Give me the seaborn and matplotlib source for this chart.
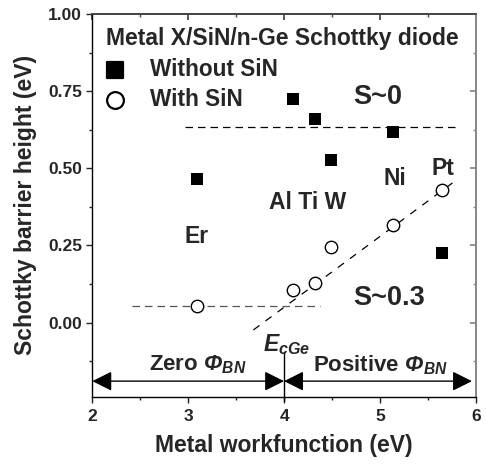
import numpy as np
import pandas as pd
import matplotlib
matplotlib.use('Agg')
import matplotlib.pyplot as plt
import seaborn as sns

# Data
metals = ['Er', 'Al', 'Ti', 'W', 'Ni', 'Pt']
workfunction = [3.09, 4.09, 4.32, 4.49, 5.14, 5.65]
sbh_without_sin = [0.465, 0.723, 0.659, 0.528, 0.618, 0.224]
sbh_with_sin = [0.052, 0.106, 0.129, 0.244, 0.316, 0.431]

# guide lines (S~0, pinned level, S~0.3 slope)
s0_x = [2.97, 5.80]
s0_y = [0.634, 0.634]
pin_x = [2.41, 4.38]
pin_y = [0.054, 0.054]
slope_x = [3.68, 5.79]
slope_y = [-0.024, 0.46]

ecge = 4.0

df = pd.DataFrame({'wf': workfunction, 'without': sbh_without_sin, 'with': sbh_with_sin})

sns.set_theme(style='ticks')
plt.rcParams['font.family'] = ['Liberation Sans', 'DejaVu Sans']
plt.rcParams['font.weight'] = 'bold'
plt.rcParams['mathtext.fontset'] = 'custom'
plt.rcParams['mathtext.rm'] = 'Liberation Sans:bold'
plt.rcParams['mathtext.it'] = 'Liberation Sans:bold:italic'
plt.rcParams['mathtext.bf'] = 'Liberation Sans:bold'
plt.rcParams['mathtext.bfit'] = 'Liberation Sans:bold:italic'

fig = plt.figure(figsize=(4.86, 4.66), dpi=100)
ax = fig.add_axes([0.190, 0.149, 0.789, 0.821])

# guide lines
ax.plot(s0_x, s0_y, color='black', lw=0.9, ls=(0, (6, 4)))
ax.plot(pin_x, pin_y, color='#555555', lw=0.9, ls=(0, (6, 4)))
ax.plot(slope_x, slope_y, color='black', lw=0.9, ls=(0, (6, 6)))

sns.scatterplot(data=df, x='wf', y='without', marker='s', s=65, color='black',
                edgecolor='black', linewidth=0, ax=ax, label='Without SiN', zorder=3)
sns.scatterplot(data=df, x='wf', y='with', marker='o', s=80, facecolor='white',
                edgecolor='black', linewidth=1.0, ax=ax, label='With SiN', zorder=3)

ax.set_xlim(2, 6)
ax.set_ylim(-0.24, 1.0)
ax.set_xticks([2, 3, 4, 5, 6])
ax.set_xticks(np.arange(2.5, 6, 1.0), minor=True)
ax.set_yticks([0.0, 0.25, 0.5, 0.75, 1.0])
ax.set_yticks([-0.125, 0.125, 0.375, 0.625, 0.875], minor=True)
ax.yaxis.set_major_formatter(matplotlib.ticker.FormatStrFormatter('%.2f'))
ax.tick_params(which='major', direction='out', length=4, width=1, labelsize=12.5)
ax.tick_params(axis='x', which='major', pad=5)
ax.tick_params(which='minor', direction='out', length=2.5, width=1)
for lab in ax.get_xticklabels() + ax.get_yticklabels():
    lab.set_fontweight('bold')

ax.set_xlabel('Metal workfunction (eV)', fontsize=16.5, fontweight='bold', labelpad=7)
ax.set_ylabel('Schottky barrier height (eV)', fontsize=16.5, fontweight='bold', labelpad=8)

for side in ['left', 'bottom']:
    ax.spines[side].set_color('black')
    ax.spines[side].set_linewidth(1.0)
ax.spines['top'].set_color('#444444')
ax.spines['right'].set_color('#888888')

# inward ticks on top/right
top = ax.secondary_xaxis('top')
top.set_xticks([2, 3, 4, 5, 6])
top.set_xticks(np.arange(2.5, 6, 1.0), minor=True)
top.tick_params(which='both', direction='in', labeltop=False, color='#444444')
top.tick_params(which='major', length=4)
top.tick_params(which='minor', length=2.5)
top.spines['top'].set_color('#444444')
right = ax.secondary_yaxis('right')
right.set_yticks([0.0, 0.25, 0.5, 0.75, 1.0])
right.set_yticks([-0.125, 0.125, 0.375, 0.625, 0.875], minor=True)
right.tick_params(which='both', direction='in', labelright=False, color='#888888')
right.tick_params(which='major', length=4)
right.tick_params(which='minor', length=2.5)
right.spines['right'].set_color('#888888')

leg = ax.legend(title='Metal X/SiN/n-Ge Schottky diode', loc='upper left',
                bbox_to_anchor=(-0.018, 1.02), frameon=False, alignment='left',
                handlelength=0.8, handletextpad=1.15, borderpad=0.4,
                labelspacing=0.3, markerscale=1.35,
                prop={'size': 16.3, 'weight': 'bold'},
                title_fontproperties={'size': 16.5, 'weight': 'bold'})
leg._legend_box.sep = 6
for h in leg.legend_handles:
    h.set_linewidth(1.6)

# metal labels
ax.text(3.09, 0.28, 'Er', fontsize=16.5, fontweight='bold', ha='center', va='center')
ax.text(4.25, 0.39, 'Al Ti W', fontsize=16.5, fontweight='bold', ha='center', va='center')
ax.text(5.16, 0.468, 'Ni', fontsize=16.5, fontweight='bold', ha='center', va='center')
ax.text(5.66, 0.50, 'Pt', fontsize=16.5, fontweight='bold', ha='center', va='center')
ax.text(4.72, 0.73, 'S~0', fontsize=19.5, fontweight='bold', ha='left', va='center')
ax.text(4.72, 0.08, 'S~0.3', fontsize=19.5, fontweight='bold', ha='left', va='center')

# Ec of Ge and arrows
ax.plot([ecge, ecge], [-0.255, -0.095], color='black', lw=1.0, clip_on=False)
ax.text(4.03, -0.07, r'$E_{cGe}$', fontsize=16.5, ha='center', va='center')
arrow = dict(arrowstyle='<|-|>', color='black', lw=1.0, mutation_scale=30,
             shrinkA=0, shrinkB=0)
ax.annotate('', xy=(2.0, -0.19), xytext=(ecge, -0.19), arrowprops=arrow)
ax.annotate('', xy=(ecge, -0.19), xytext=(5.96, -0.19), arrowprops=arrow)
ax.text(3.1, -0.137, r'Zero $\mathbfit{\Phi}_{BN}$', fontsize=16, ha='center', va='center')
ax.text(5.0, -0.137, r'Positive $\mathbfit{\Phi}_{BN}$', fontsize=16, ha='center', va='center')

fig.savefig('out.png', dpi=100)
